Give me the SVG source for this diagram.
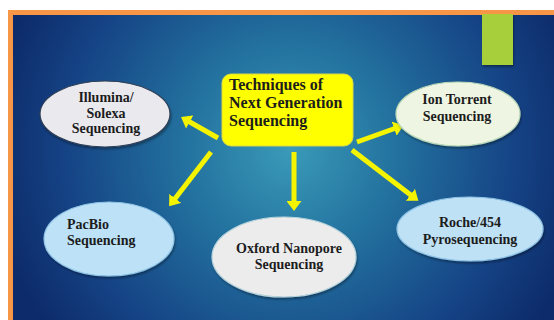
<svg xmlns="http://www.w3.org/2000/svg" width="554" height="320" viewBox="0 0 554 320">
  <defs>
    <radialGradient id="bg" cx="290" cy="150" r="300" gradientUnits="userSpaceOnUse">
      <stop offset="0" stop-color="#3a9ab8"/>
      <stop offset="0.35" stop-color="#23729f"/>
      <stop offset="0.75" stop-color="#154385"/>
      <stop offset="1" stop-color="#0d2b6a"/>
    </radialGradient>
    <marker id="head" markerWidth="2" markerHeight="3" refX="0.4" refY="1.5" orient="auto" markerUnits="strokeWidth">
      <path d="M0,0 L2,1.5 L0,3 Z" fill="#f4f400"/>
    </marker>
    <filter id="shadow" x="-10%" y="-10%" width="130%" height="130%">
      <feDropShadow dx="1" dy="2" stdDeviation="1.2" flood-color="#000" flood-opacity="0.35"/>
    </filter>
  </defs>
  <style>
    .lbl { font-family: "Liberation Serif", "Times New Roman", serif; font-weight: bold; font-size: 14px; fill: #1c1c1c; }
    .title { font-size: 16px; }
    .node { stroke-width: 1.2; filter: url(#shadow); }
    .arrow { stroke: #f4f400; stroke-width: 5; fill: none; marker-end: url(#head); }
  </style>

  <!-- page and framed panel -->
  <rect x="0" y="0" width="554" height="320" fill="#ffffff"/>
  <rect x="8" y="10" width="546" height="310" fill="#f79646"/>
  <rect x="13" y="15" width="541" height="305" fill="url(#bg)"/>
  <rect x="482" y="14" width="31" height="51" fill="#a6cf3b" filter="url(#shadow)"/>

  <!-- connectors -->
  <g id="connectors">
    <line class="arrow" x1="218" y1="138" x2="188" y2="121"/>
    <line class="arrow" x1="357" y1="142" x2="396" y2="128"/>
    <line class="arrow" x1="211" y1="152" x2="174" y2="200"/>
    <line class="arrow" x1="294" y1="152" x2="294" y2="203"/>
    <line class="arrow" x1="352" y1="150" x2="412" y2="196"/>
  </g>

  <g id="center">
    <rect x="222" y="74" width="131" height="72" rx="9" fill="#ffff00" stroke="#d8d84a" stroke-width="1"/>
    <text class="lbl title" x="229" y="90">Techniques of</text>
    <text class="lbl title" x="229" y="108">Next Generation</text>
    <text class="lbl title" x="229" y="126">Sequencing</text>
  </g>

  <g id="illumina">
    <ellipse class="node" cx="105" cy="114" rx="65" ry="33" fill="#e9e9ee" stroke="#2e3e56"/>
    <text class="lbl" text-anchor="middle" x="106" y="102">Illumina/</text>
    <text class="lbl" text-anchor="middle" x="106" y="118">Solexa</text>
    <text class="lbl" text-anchor="middle" x="106" y="133">Sequencing</text>
  </g>

  <g id="ion-torrent">
    <ellipse class="node" cx="458" cy="114" rx="62" ry="32" fill="#eef5e2" stroke="#b9d8b8"/>
    <text class="lbl" text-anchor="middle" x="457" y="104">Ion Torrent</text>
    <text class="lbl" text-anchor="middle" x="457" y="121">Sequencing</text>
  </g>

  <g id="pacbio">
    <ellipse class="node" cx="109" cy="239" rx="65" ry="37" fill="#bde2f7" stroke="#8fc4e6"/>
    <text class="lbl" x="67" y="229">PacBio</text>
    <text class="lbl" x="67" y="245">Sequencing</text>
  </g>

  <g id="oxford">
    <ellipse class="node" cx="284" cy="257" rx="72" ry="40" fill="#ececec" stroke="#b8d4dc"/>
    <text class="lbl" text-anchor="middle" x="289" y="253">Oxford Nanopore</text>
    <text class="lbl" text-anchor="middle" x="289" y="269">Sequencing</text>
  </g>

  <g id="roche">
    <ellipse class="node" cx="470" cy="229" rx="73" ry="32" fill="#bfe1f5" stroke="#8fc4e6"/>
    <text class="lbl" text-anchor="middle" x="470" y="227">Roche/454</text>
    <text class="lbl" text-anchor="middle" x="470" y="244">Pyrosequencing</text>
  </g>
</svg>
